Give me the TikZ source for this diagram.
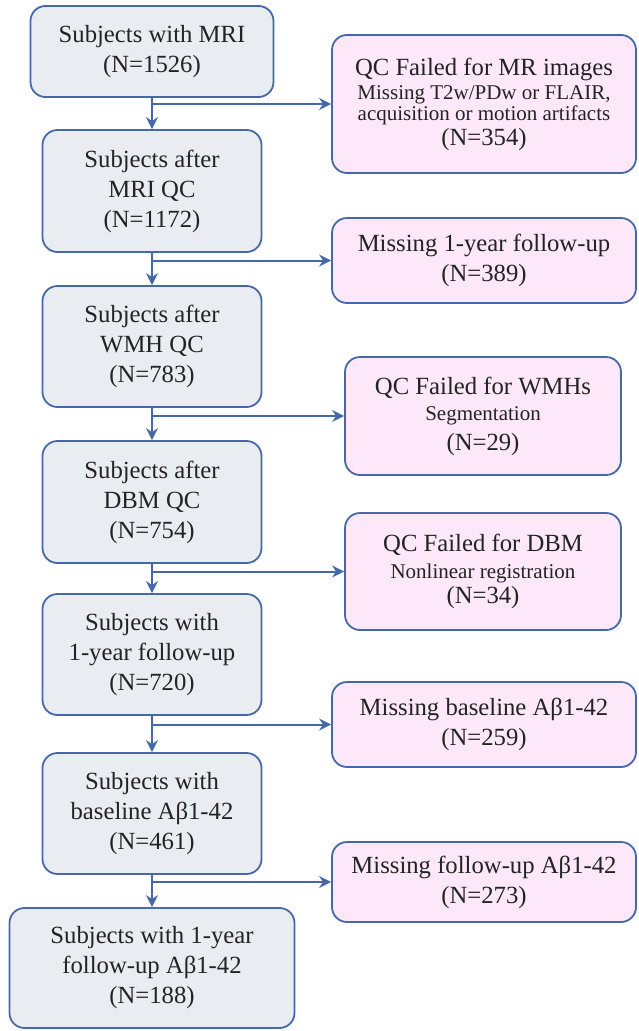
\documentclass[tikz,border=0pt]{standalone}
\usepackage{fontspec}
\setmainfont{Liberation Serif}
\newfontfamily\lserif{Liberation Serif}
\usetikzlibrary{arrows.meta}
\definecolor{bordc}{RGB}{70,104,168}
\definecolor{lfill}{RGB}{233,236,241}
\definecolor{rfill}{RGB}{252,232,248}
\definecolor{txtc}{RGB}{35,35,35}
\newcommand{\bigtxt}{\lserif\fontsize{24.7pt}{30pt}\selectfont}
\newcommand{\smalltxt}{\lserif\fontsize{21pt}{24pt}\selectfont}
\tikzset{
  boxbase/.style={draw=bordc, line width=1.8pt, rounded corners=15pt, align=center,
    inner sep=0pt, text=txtc, font=\bigtxt},
  lbox/.style={boxbase, fill=lfill},
  rbox/.style={boxbase, fill=rfill},
  conn/.style={draw=bordc, line width=2pt, -{Stealth[length=12pt,width=12pt,inset=4pt]}},
}
\begin{document}
\begin{tikzpicture}[x=1pt,y=-1pt]
\useasboundingbox (0,0) rectangle (638,1031);
% left column
\node[lbox, minimum width=243pt, minimum height=91pt] (L1) at (152,51.5)
  {Subjects with MRI\\(N=1526)};
\node[lbox, minimum width=219pt, minimum height=122pt] (L2) at (152,191)
  {Subjects after\\MRI QC\\(N=1172)};
\node[lbox, minimum width=219pt, minimum height=121pt] (L3) at (152,346.5)
  {Subjects after\\WMH QC\\(N=783)};
\node[lbox, minimum width=219pt, minimum height=122pt] (L4) at (152,502)
  {Subjects after\\DBM QC\\(N=754)};
\node[lbox, minimum width=219pt, minimum height=121pt] (L5) at (152,654.5)
  {Subjects with\\1-year follow-up\\(N=720)};
\node[lbox, minimum width=219pt, minimum height=121pt] (L6) at (152,813.5)
  {Subjects with\\baseline Aβ1-42\\(N=461)};
\node[lbox, minimum width=285pt, minimum height=120pt] (L7) at (152,968)
  {Subjects with 1-year\\follow-up Aβ1-42\\(N=188)};
% right column
\node[rbox, minimum width=304pt, minimum height=138pt] (R1) at (484,104)
  {QC Failed for MR images\\[-6pt]{\smalltxt Missing T2w/PDw or FLAIR,}\\[-9pt]{\smalltxt acquisition or motion artifacts}\\[-5pt](N=354)};
\node[rbox, minimum width=304pt, minimum height=85pt] (R2) at (484,260.5)
  {Missing 1-year follow-up\\(N=389)};
\node[rbox, minimum width=276pt, minimum height=118pt] (R3) at (483,416)
  {QC Failed for WMHs\\[-4pt]{\smalltxt Segmentation}\\(N=29)};
\node[rbox, minimum width=276pt, minimum height=117pt] (R4) at (483,571.5)
  {QC Failed for DBM\\[-3pt]{\smalltxt Nonlinear registration}\\[-5pt](N=34)};
\node[rbox, minimum width=304pt, minimum height=85pt] (R5) at (484,724.5)
  {Missing baseline Aβ1-42\\(N=259)};
\node[rbox, minimum width=304pt, minimum height=80pt] (R6) at (484,882)
  {Missing follow-up Aβ1-42\\(N=273)};
% connectors
\draw[conn] (L1.south) -- (L2.north);
\draw[conn] (L2.south) -- (L3.north);
\draw[conn] (L3.south) -- (L4.north);
\draw[conn] (L4.south) -- (L5.north);
\draw[conn] (L5.south) -- (L6.north);
\draw[conn] (L6.south) -- (L7.north);
\draw[conn] (L1.south |- R1.west) -- (R1.west);
\draw[conn] (L2.south |- R2.west) -- (R2.west);
\draw[conn] (L3.south |- R3.west) -- (R3.west);
\draw[conn] (L4.south |- R4.west) -- (R4.west);
\draw[conn] (L5.south |- R5.west) -- (R5.west);
\draw[conn] (L6.south |- R6.west) -- (R6.west);
\end{tikzpicture}
\end{document}
